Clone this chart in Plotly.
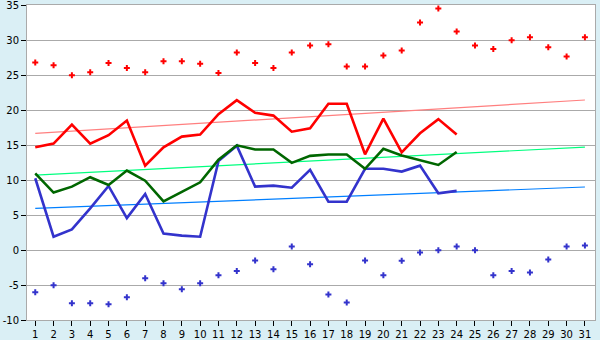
import plotly.graph_objects as go

days = list(range(1, 32))
line_days = list(range(1, 25))
y_ticks = [-10, -5, 0, 5, 10, 15, 20, 25, 30, 35]
y_tick_labels = ["-10", "-5", "0", "5", "10", "15", "20", "25", "30", "35"]

max_points = [26.8, 26.4, 24.95, 25.4, 26.7, 26.0, 25.4, 26.95, 26.95, 26.6,
              25.3, 28.2, 26.7, 26.0, 28.2, 29.2, 29.4, 26.2, 26.2, 27.8,
              28.5, 32.5, 34.5, 31.2, 29.2, 28.7, 29.95, 30.4, 28.95, 27.65, 30.4]
min_points = [-6.05, -5.05, -7.6, -7.6, -7.75, -6.75, -4.05, -4.75, -5.6, -4.75,
              -3.6, -3.0, -1.5, -2.75, 0.5, -2.05, -6.35, -7.5, -1.5, -3.6,
              -1.55, -0.35, -0.05, 0.5, -0.05, -3.6, -3.0, -3.2, -1.35, 0.5, 0.65]

red_line = [14.67, 15.2, 17.9, 15.2, 16.4, 18.5, 12.05, 14.67, 16.2, 16.5,
            19.4, 21.4, 19.6, 19.2, 16.9, 17.4, 20.9, 20.9, 13.67, 18.76,
            13.95, 16.67, 18.7, 16.5]
green_line = [10.95, 8.2, 9.05, 10.4, 9.3, 11.35, 9.9, 6.95, 8.3, 9.67,
              12.9, 14.95, 14.35, 14.35, 12.45, 13.45, 13.65, 13.65, 11.6, 14.45,
              13.5, 12.85, 12.15, 14.0]
blue_line = [10.25, 1.9, 2.95, 5.95, 9.15, 4.55, 8.0, 2.35, 2.05, 1.9,
             12.7, 14.9, 9.05, 9.2, 8.9, 11.45, 6.9, 6.9, 11.6, 11.6,
             11.2, 12.05, 8.1, 8.45]

trend_days = [1, 31]
red_trend = [16.67, 21.43]
green_trend = [10.7, 14.7]
blue_trend = [5.95, 9.0]

fig = go.Figure()

fig.add_trace(go.Scatter(x=trend_days, y=red_trend, mode="lines",
                         line=dict(color="#FF7F7F", width=1.2)))
fig.add_trace(go.Scatter(x=trend_days, y=green_trend, mode="lines",
                         line=dict(color="#00FF7F", width=1.2)))
fig.add_trace(go.Scatter(x=trend_days, y=blue_trend, mode="lines",
                         line=dict(color="#007FFF", width=1.2)))

fig.add_trace(go.Scatter(x=line_days, y=red_line, mode="lines",
                         line=dict(color="#FF0000", width=2.6)))
fig.add_trace(go.Scatter(x=line_days, y=blue_line, mode="lines",
                         line=dict(color="#3333CC", width=2.6)))
fig.add_trace(go.Scatter(x=line_days, y=green_line, mode="lines",
                         line=dict(color="#006600", width=2.6)))

fig.add_trace(go.Scatter(x=days, y=max_points, mode="markers", cliponaxis=False,
                         marker=dict(symbol="cross", size=5, color="#FF0000",
                                     line=dict(width=0))))
fig.add_trace(go.Scatter(x=days, y=min_points, mode="markers", cliponaxis=False,
                         marker=dict(symbol="cross", size=5, color="#3333CC",
                                     line=dict(width=0))))

fig.update_layout(
    width=600, height=340,
    margin=dict(l=27, r=5, t=5, b=20, autoexpand=False),
    paper_bgcolor="#DAEFF5",
    plot_bgcolor="#FFFFFF",
    showlegend=False,
    font=dict(family="DejaVu Sans", size=10, color="#000000"),
)
fig.update_xaxes(range=[0.55, 31.55], tickvals=days, ticktext=[str(d) for d in days],
                 showgrid=False, zeroline=False, automargin=False,
                 ticklabeloverflow="allow",
                 showline=True, linecolor="#AAAAAA", linewidth=1, mirror=True,
                 ticks="outside", ticklen=5, tickcolor="#000000", tickwidth=1)
fig.update_yaxes(range=[-10, 35], tickvals=y_ticks, ticktext=y_tick_labels,
                 automargin=False, ticklabeloverflow="allow",
                 showgrid=True, gridcolor="#AAAAAA", gridwidth=1, zeroline=False,
                 showline=True, linecolor="#AAAAAA", linewidth=1, mirror=True,
                 ticks="outside", ticklen=5, tickcolor="#000000", tickwidth=1)

fig.write_html("out.html")
